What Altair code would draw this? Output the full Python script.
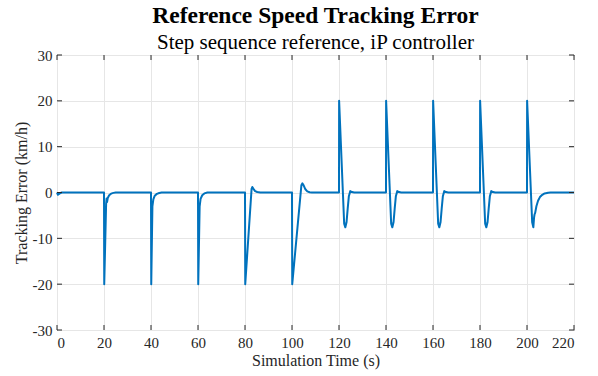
import altair as alt
import pandas as pd

# Simulation time (s) and tracking error (km/h)
time_s = [
    0, 0.4, 1.2, 2.0,
    20.0, 20.1, 20.9, 21.1, 21.3, 21.6, 22.2, 23.0, 24.0, 25.0,
    40.0, 40.1, 40.6, 41.0, 41.6, 42.5, 43.5, 44.5,
    60.0, 60.1, 60.7, 61.1, 61.8, 62.7, 64.0,
    80.0, 80.1, 82.8, 83.1, 83.6, 84.3, 85.2, 86.5,
    100.0, 100.1, 104.0, 104.4, 105.0, 105.7, 106.5, 107.5, 108.5,
    120.0, 120.05, 122.2, 122.7, 123.2, 123.7, 124.2, 124.8, 125.5, 126.5,
    140.0, 140.05, 142.2, 142.7, 143.2, 143.7, 144.2, 144.8, 145.5, 146.5,
    160.0, 160.05, 162.2, 162.7, 163.2, 163.7, 164.2, 164.8, 165.5, 166.5,
    180.0, 180.05, 182.2, 182.7, 183.2, 183.7, 184.2, 184.8, 185.5, 186.5,
    200.0, 200.05, 202.2, 202.7, 203.0, 203.2, 203.5, 204.0, 204.7, 205.5, 206.5, 207.5, 209.0, 210.0,
    220.0,
]
error_kmh = [
    0, -0.5, -0.2, 0,
    0, -20, -2.5, -1.3, -2.1, -1.2, -0.6, -0.25, -0.08, 0,
    0, -20, -3.0, -1.5, -0.7, -0.3, -0.1, 0,
    0, -20, -3.0, -1.4, -0.6, -0.2, 0,
    0, -20, 0.8, 1.2, 0.8, 0.3, 0.1, 0,
    0, -20, 1.6, 2.0, 1.5, 0.7, 0.25, 0.05, 0,
    0, 20, -6.8, -7.6, -6.5, -3.5, -0.8, 0.3, 0.1, 0,
    0, 20, -6.8, -7.6, -6.5, -3.5, -0.8, 0.3, 0.1, 0,
    0, 20, -6.8, -7.6, -6.5, -3.5, -0.8, 0.3, 0.1, 0,
    0, 20, -6.8, -7.6, -6.5, -3.5, -0.8, 0.3, 0.1, 0,
    0, 20, -6.5, -7.6, -5.5, -4.8, -4.4, -3.0, -1.8, -1.0, -0.5, -0.2, -0.05, 0,
    0,
]

x_ticks = [0, 20, 40, 60, 80, 100, 120, 140, 160, 180, 200, 220]
y_ticks = [-30, -20, -10, 0, 10, 20, 30]

X_MIN, X_MAX = 0, 220
Y_MIN, Y_MAX = -30, 30
W, H = 517, 275
TICK_PX = 5
FONT = "Liberation Serif"
DARK = "#262626"
BLUE = "#0072BD"

df = pd.DataFrame({"t": time_s, "e": error_kmh})

xs = alt.Scale(domain=[X_MIN, X_MAX], nice=False, zero=False)
ys = alt.Scale(domain=[Y_MIN, Y_MAX], nice=False, zero=False)

LABEL_EXPR = "datum.value < 0 ? '-' + abs(datum.value) : '' + datum.value"

line = alt.Chart(df).mark_line(color=BLUE, strokeWidth=2, strokeJoin="round").encode(
    x=alt.X("t:Q", scale=xs, title="Simulation Time (s)",
            axis=alt.Axis(values=x_ticks, grid=True, ticks=False, domain=False,
                          labelExpr=LABEL_EXPR, labelPadding=5, titlePadding=2)),
    y=alt.Y("e:Q", scale=ys, title="Tracking Error (km/h)",
            axis=alt.Axis(values=y_ticks, grid=True, ticks=False, domain=False,
                          labelExpr=LABEL_EXPR, labelPadding=5, titlePadding=3)),
)

# inward tick marks on all four sides (MATLAB-style box)
dy = TICK_PX * (Y_MAX - Y_MIN) / H
dx = TICK_PX * (X_MAX - X_MIN) / W
rows = []
for v in x_ticks:
    rows.append({"x": v, "x2": v, "y": Y_MIN, "y2": Y_MIN + dy})
    rows.append({"x": v, "x2": v, "y": Y_MAX, "y2": Y_MAX - dy})
for v in y_ticks:
    rows.append({"x": X_MIN, "x2": X_MIN + dx, "y": v, "y2": v})
    rows.append({"x": X_MAX, "x2": X_MAX - dx, "y": v, "y2": v})
ticks = alt.Chart(pd.DataFrame(rows)).mark_rule(color=DARK, strokeWidth=1).encode(
    x=alt.X("x:Q", scale=xs), x2="x2:Q",
    y=alt.Y("y:Q", scale=ys), y2="y2:Q",
)

chart = alt.layer(line, ticks).properties(
    width=W, height=H,
    autosize=alt.AutoSizeParams(type="none"),
    padding={"left": 57, "top": 55, "right": 24, "bottom": 46},
    title=alt.TitleParams(
        text="Reference Speed Tracking Error",
        subtitle="Step sequence reference, iP controller",
        font=FONT, fontSize=23.5, fontWeight="bold", color="#000000",
        subtitleFont=FONT, subtitleFontSize=21, subtitleColor="#000000",
        subtitlePadding=5, anchor="middle", offset=-5,
    ),
).configure_view(
    stroke=DARK, strokeWidth=1
).configure_axis(
    labelFont=FONT, labelFontSize=15, labelColor=DARK,
    titleFont=FONT, titleFontSize=16, titleColor=DARK, titleFontWeight="normal",
    gridColor="#e6e6e6", gridWidth=1,
)

chart.save("out.html", embed_options={"renderer": "svg", "actions": False})
